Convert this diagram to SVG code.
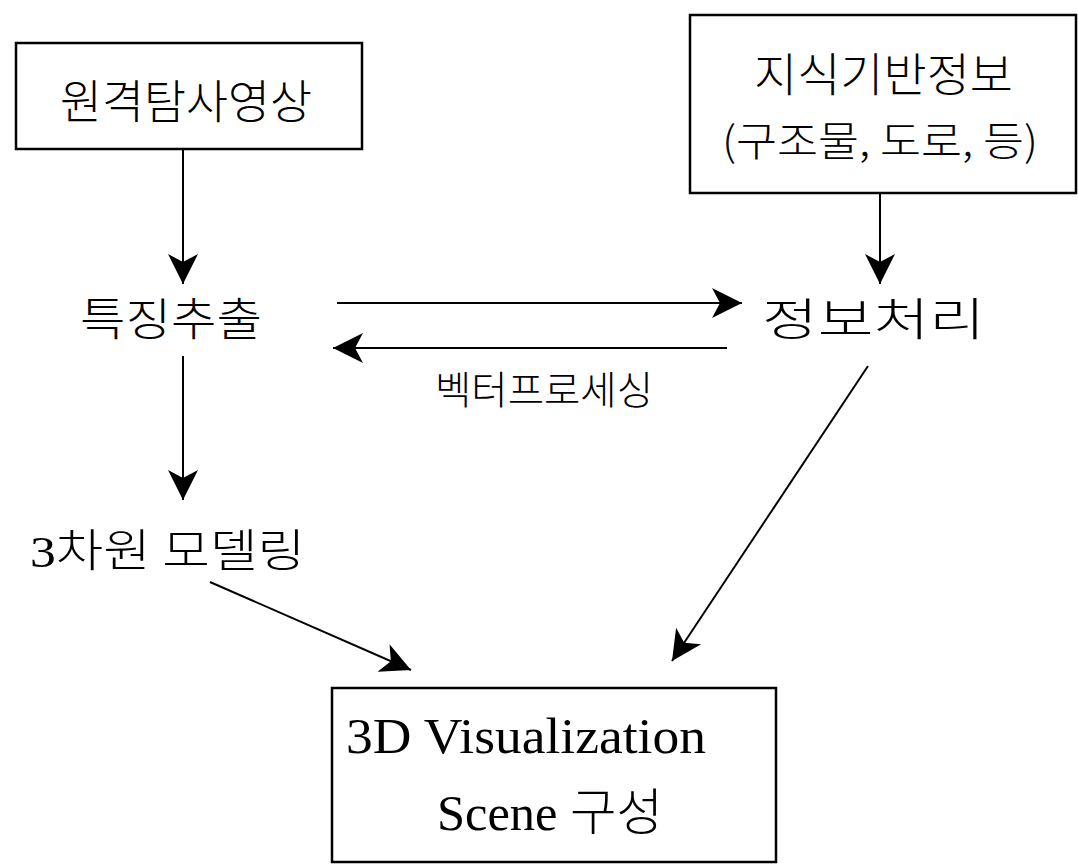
<svg xmlns="http://www.w3.org/2000/svg" width="1078" height="865" viewBox="0 0 1078 865">
<style>
.box{fill:#fff;stroke:#000;stroke-width:2.5}
.ln{stroke:#000;stroke-width:2;fill:none;marker-end:url(#ah)}
.t{font-family:"Liberation Serif","Noto Sans CJK KR",serif;fill:#000}
.k{font-family:"Noto Sans CJK KR","Liberation Serif",sans-serif;font-weight:300;fill:#000}
</style>
<defs>
<marker id="ah" markerUnits="userSpaceOnUse" viewBox="-31 -16 32 32" refX="0" refY="0" markerWidth="32" markerHeight="32" orient="auto">
<path d="M0,0 L-30,-15 L-22,0 L-30,15 Z" fill="#000"/>
</marker>
</defs>
<rect width="1078" height="865" fill="#fff"/>
<g id="connectors">
<line class="ln" x1="183" y1="150" x2="183" y2="284"/>
<line class="ln" x1="183" y1="356" x2="183" y2="500"/>
<line class="ln" x1="880" y1="193" x2="880" y2="284"/>
<line class="ln" x1="337" y1="303" x2="742" y2="303"/>
<line class="ln" x1="727" y1="348" x2="333" y2="348"/>
<line class="ln" x1="210" y1="582" x2="411" y2="670"/>
<line class="ln" x1="868" y1="366" x2="672" y2="661"/>
</g>
<g id="n1">
<rect class="box" x="16" y="43" width="346" height="106"/>
<text class="k" x="60" y="118" font-size="46" textLength="252" lengthAdjust="spacingAndGlyphs">원격탐사영상</text>
</g>
<g id="n2">
<rect class="box" x="690" y="15" width="386" height="178"/>
<text class="k" x="754" y="91" font-size="46" textLength="259" lengthAdjust="spacingAndGlyphs">지식기반정보</text>
<text class="k" x="722" y="156" font-size="41" textLength="316" lengthAdjust="spacingAndGlyphs">(구조물, 도로, 등)</text>
</g>
<g id="n3">
<text class="k" x="80" y="336" font-size="45" textLength="182" lengthAdjust="spacingAndGlyphs">특징추출</text>
</g>
<g id="n4">
<text class="k" x="762" y="336" font-size="45" textLength="223" lengthAdjust="spacingAndGlyphs">정보처리</text>
</g>
<g id="n5">
<text class="t" x="30" y="567" font-size="45" textLength="275" lengthAdjust="spacingAndGlyphs">3<tspan class="k">차원 모델링</tspan></text>
</g>
<g id="label">
<text class="k" x="435" y="404" font-size="39" textLength="218" lengthAdjust="spacingAndGlyphs">벡터프로세싱</text>
</g>
<g id="n6">
<rect class="box" x="332" y="688" width="444" height="174"/>
<text class="t" x="346" y="753" font-size="50" textLength="360" lengthAdjust="spacingAndGlyphs">3D Visualization</text>
<text class="t" x="437" y="830" font-size="50" textLength="226" lengthAdjust="spacingAndGlyphs">Scene <tspan class="k">구성</tspan></text>
</g>
</svg>
